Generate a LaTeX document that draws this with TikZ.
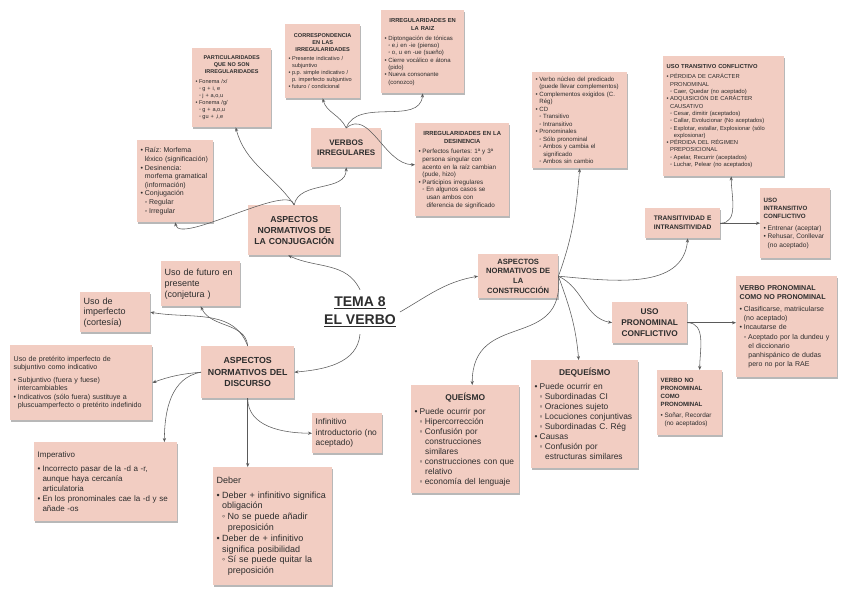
\documentclass[tikz,border=0pt]{standalone}
\usepackage{fontspec}
\setmainfont{Liberation Sans}
\usetikzlibrary{positioning,arrows.meta,shadows}
\definecolor{mmpink}{RGB}{242,205,194}
\definecolor{mmtext}{RGB}{45,45,45}
\definecolor{mmline}{RGB}{90,90,90}
\newcommand{\fsz}[2]{\fontsize{#1}{#2}\selectfont}
\newcommand{\bu}{\textbullet\hspace{0.25em}}
\newcommand{\ct}{\hspace*{0.6em}}
\newcommand{\sbu}{\hspace*{0.6em}◦\hspace{0.25em}}
\newcommand{\sct}{\hspace*{1.25em}}
\frenchspacing
\tikzset{
  card/.style={fill=mmpink, text=mmtext, anchor=north west, align=left, inner xsep=3.5pt, inner ysep=3pt,
    drop shadow={shadow xshift=0.3pt, shadow yshift=-1.6pt, opacity=0.28, fill=black}},
  headcard/.style={card, align=center},
  link/.style={draw=mmline, line width=0.55pt, -{Stealth[length=4pt, width=3.2pt]}}
}

\begin{document}
\begin{tikzpicture}[x=1pt, y=1pt]
  \fill[white] (0,0) rectangle (848,-597);
  \useasboundingbox (0,0) rectangle (848,-597);

  % centre
  \node[font=\fsz{14}{18}\bfseries, text=mmtext, align=center, inner xsep=4pt, inner ysep=7pt] (tema) at (360,-312) {\underline{TEMA 8}\\\underline{EL VERBO}};

  % conjugacion
  \node[headcard, text width=85pt, minimum height=50pt, font=\fsz{8.7}{11}\bfseries] (conj) at (248,-205) {ASPECTOS\\NORMATIVOS DE\\LA CONJUGACIÓN};
  \node[card, text width=69pt, minimum height=82pt, font=\fsz{7}{8.6}] (morf) at (137,-140) {\bu Raíz: Morfema\\\ct léxico (significación)\\\bu Desinencia:\\\ct morfema gramatical\\\ct (información)\\\bu Conjugación\\\sbu Regular\\\sbu Irregular};
  \node[card, text width=72pt, minimum height=79pt, font=\fsz{5.6}{7}] (part) at (192,-48) {{\centering\fsz{5.5}{7}\bfseries PARTICULARIDADES\\QUE NO SON\\IRREGULARIDADES\par}\vspace{2.5pt}\bu Fonema /x/\\\sbu g + i, e\\\sbu j + a,o,u\\\bu Fonema /g/\\\sbu g + a,o,u\\\sbu gu + ,i,e};
  \node[headcard, text width=63pt, minimum height=39pt, font=\fsz{8}{10}\bfseries] (virr) at (311,-128) {VERBOS\\IRREGULARES};
  \node[card, text width=68pt, minimum height=74pt, font=\fsz{5.6}{7}] (corr) at (285,-24) {{\centering\bfseries CORRESPONDENCIA\\EN LAS\\IRREGULARIDADES\par}\vspace{2.5pt}\bu Presente indicativo /\\\ct subjuntivo\\\bu p.p. simple indicativo /\\\ct p. imperfecto subjuntivo\\\bu futuro / condicional};
  \node[card, text width=76pt, minimum height=83pt, font=\fsz{6}{7.3}] (rz) at (381,-10) {{\centering\fsz{5.8}{8}\bfseries IRREGULARIDADES EN\\LA RAIZ\par}\vspace{3pt}\bu Diptongación de tónicas\\\sbu e,i en -ie (pienso)\\\sbu o, u en -ue (sueño)\\\bu Cierre vocálico e átona\\\ct (pido)\\\bu Nueva consonante\\\ct (conozco)};
  \node[card, text width=87pt, minimum height=93pt, font=\fsz{6.3}{7.6}] (des) at (415,-123) {{\centering\fsz{5.9}{8}\bfseries IRREGULARIDADES EN LA\\DESINENCIA\par}\vspace{3pt}\bu Perfectos fuertes: 1ª y 3ª\\\ct persona singular con\\\ct acento en la raíz cambian\\\ct (pude, hizo)\\\bu Participios irregulares\\\sbu En algunos casos se\\\sct usan ambos con\\\sct diferencia de significado};

  % construccion
  \node[headcard, text width=73pt, minimum height=44pt, font=\fsz{7.6}{9.8}\bfseries] (cons) at (478,-254) {ASPECTOS\\NORMATIVOS DE\\LA\\CONSTRUCCIÓN};
  \node[card, text width=88pt, minimum height=96pt, font=\fsz{6.1}{7.5}] (nucleo) at (532,-72) {\bu Verbo núcleo del predicado\\\ct (puede llevar complementos)\\\bu Complementos exigidos (C.\\\ct Rég)\\\bu CD\\\sbu Transitivo\\\sbu Intransitivo\\\bu Pronominales\\\sbu Sólo pronominal\\\sbu Ambos y cambia el\\\sct significado\\\sbu Ambos sin cambio};
  \node[card, text width=114pt, minimum height=120pt, font=\fsz{5.8}{7.3}] (trans) at (663,-56) {{\bfseries USO TRANSITIVO CONFLICTIVO}\\[3pt]\bu PÉRDIDA DE CARÁCTER\\\ct PRONOMINAL\\\sbu Caer, Quedar (no aceptado)\\\bu ADQUISICIÓN DE CARÁCTER\\\ct CAUSATIVO\\\sbu Cesar, dimitir (aceptados)\\\sbu Callar, Evolucionar (No aceptados)\\\sbu Explotar, estallar, Explosionar (sólo\\\sct explosionar)\\\bu PÉRDIDA DEL RÉGIMEN\\\ct PREPOSICIONAL\\\sbu Apelar, Recurrir (aceptados)\\\sbu Luchar, Pelear (no aceptados)};
  \node[headcard, text width=68pt, minimum height=30pt, font=\fsz{6.6}{9}\bfseries] (tri) at (645,-208) {TRANSITIVIDAD E\\INTRANSITIVIDAD};
  \node[card, text width=63pt, minimum height=70pt, font=\fsz{6.6}{8.4}] (intr) at (760,-188) {{\fsz{6.2}{8.4}\bfseries USO\\INTRANSITIVO\\CONFLICTIVO\par}\vspace{3pt}\bu Entrenar (aceptar)\\\bu Rehusar, Conllevar\\\ct (no aceptado)};
  \node[headcard, text width=68pt, minimum height=41pt, font=\fsz{8.3}{10.8}\bfseries] (pron) at (612,-302) {USO\\PRONOMINAL\\CONFLICTIVO};
  \node[card, text width=94pt, minimum height=101pt, font=\fsz{7}{9.2}] (vpnp) at (736,-276) {{\fsz{7.1}{9.2}\bfseries VERBO PRONOMINAL\\COMO NO PRONOMINAL\par}\vspace{3pt}\bu Clasificarse, matriicularse\\\ct (no aceptado)\\\bu Incautarse de\\\sbu Aceptado por la dundeu y\\\sct el diccionario\\\sct panhispánico de dudas\\\sct pero no por la RAE};
  \node[card, text width=58pt, minimum height=65pt, font=\fsz{6.4}{8}] (vnpp) at (657,-370) {{\fsz{6.1}{8}\bfseries VERBO NO\\PRONOMINAL\\COMO\\PRONOMINAL\par}\vspace{3pt}\bu Soñar, Recordar\\\ct (no aceptados)};
  \node[card, text width=100pt, minimum height=108pt, font=\fsz{8.4}{10}] (deq) at (531,-360) {{\centering\bfseries DEQUEÍSMO\par}\vspace{4pt}\bu Puede ocurrir en\\\sbu Subordinadas CI\\\sbu Oraciones sujeto\\\sbu Locuciones conjuntivas\\\sbu Subordinadas C. Rég\\\bu Causas\\\sbu Confusión por\\\sct estructuras similares};
  \node[card, text width=101pt, minimum height=108pt, font=\fsz{8.4}{10}] (que) at (411,-385) {{\centering\bfseries QUEÍSMO\par}\vspace{4pt}\bu Puede ocurrir por\\\sbu Hipercorrección\\\sbu Confusión por\\\sct construcciones\\\sct similares\\\sbu construcciones con que\\\sct relativo\\\sbu economía del lenguaje};

  % discurso
  \node[headcard, text width=86pt, minimum height=52pt, font=\fsz{8.8}{11.5}\bfseries] (disc) at (201,-346) {ASPECTOS\\NORMATIVOS DEL\\DISCURSO};
  \node[card, text width=72pt, minimum height=45pt, font=\fsz{9}{11}] (fut) at (161,-261) {Uso de futuro en\\presente\\(conjetura )};
  \node[card, text width=63pt, minimum height=40pt, font=\fsz{9}{10.5}] (imp) at (80,-292) {Uso de\\imperfecto\\(cortesía)};
  \node[card, text width=135pt, minimum height=75pt, font=\fsz{7.1}{8.5}] (pret) at (10,-345) {Uso de pretérito imperfecto de\\subjuntivo como indicativo\\[4pt]\bu Subjuntivo (fuera y fuese)\\\ct intercambiables\\\bu Indicativos (sólo fuera) sustituye a\\\ct pluscuamperfecto o pretérito indefinido};
  \node[card, text width=63pt, minimum height=40pt, font=\fsz{8.4}{10.5}] (infi) at (312,-413) {Infinitivo\\introductorio (no\\aceptado)};
  \node[card, text width=112pt, minimum height=118pt, font=\fsz{9}{10.8}] (deber) at (213,-467) {Deber\\[4pt]\bu Deber + infinitivo significa\\\ct obligación\\\sbu No se puede añadir\\\sct preposición\\\bu Deber de + infinitivo\\\ct significa posibilidad\\\sbu Sí se puede quitar la\\\sct preposición};
  \node[card, text width=136pt, minimum height=79pt, font=\fsz{8}{10}] (imper) at (34,-442) {Imperativo\\[4pt]\bu Incorrecto pasar de la -d a -r,\\\ct aunque haya cercanía\\\ct articulatoria\\\bu En los pronominales cae la -d y se\\\ct añade -os};

  % links
  \draw[link] (tema.north) to[out=115,in=-25] ([xshift=-6pt]conj.south);
  \draw[link] (tema.east) to[out=30,in=190] (cons.west);
  \draw[link] (tema.south) to[out=-95,in=5] (disc.east);

  \draw[link] (conj.north) to[out=125,in=-75] ([xshift=4pt]part.south);
  \draw[link] (conj.north) to[out=100,in=-80,looseness=0.5] (morf.south);
  \draw[link] (conj.north) to[out=80,in=-90] (virr.south);
  \draw[link] (virr.north) to[out=115,in=-75] (corr.south);
  \draw[link] (virr.north) to[out=70,in=-95] (rz.south);
  \draw[link] (virr.north) to[out=40,in=180] ([yshift=5pt]des.west);

  \draw[link] (cons.east) to[out=70,in=-95] (nucleo.south);
  \draw[link] (cons.east) to[out=-5,in=-95] ([xshift=5pt]tri.south);
  \draw[link] (cons.east) to[out=-25,in=170] (pron.west);
  \draw[link] (cons.east) to[out=-85,in=90,looseness=1.4] ([xshift=7pt]que.north);
  \draw[link] (cons.east) to[out=-70,in=95] ([xshift=-6pt]deq.north);
  \draw[link] (tri.east) to[out=0,in=-90] ([xshift=7.5pt]trans.south);
  \draw[link] (tri.east) -- (tri.east -| intr.west);
  \draw[link] (pron.east) -- (pron.east -| vpnp.west);
  \draw[link] (pron.east) to[out=0,in=90] ([xshift=10pt]vnpp.north);

  \draw[link] (disc.north) to[out=95,in=-65] (fut.south);
  \draw[link] (disc.north) to[out=110,in=-10] (imp.east);
  \draw[link] (disc.west) to[out=185,in=20] (pret.east);
  \draw[link] (disc.west) to[out=190,in=90] ([xshift=-13pt]imper.north east);
  \draw[link] (disc.south) -- (disc.south |- deber.north);
  \draw[link] (disc.south) to[out=-90,in=180] (infi.west);
\end{tikzpicture}
\end{document}
